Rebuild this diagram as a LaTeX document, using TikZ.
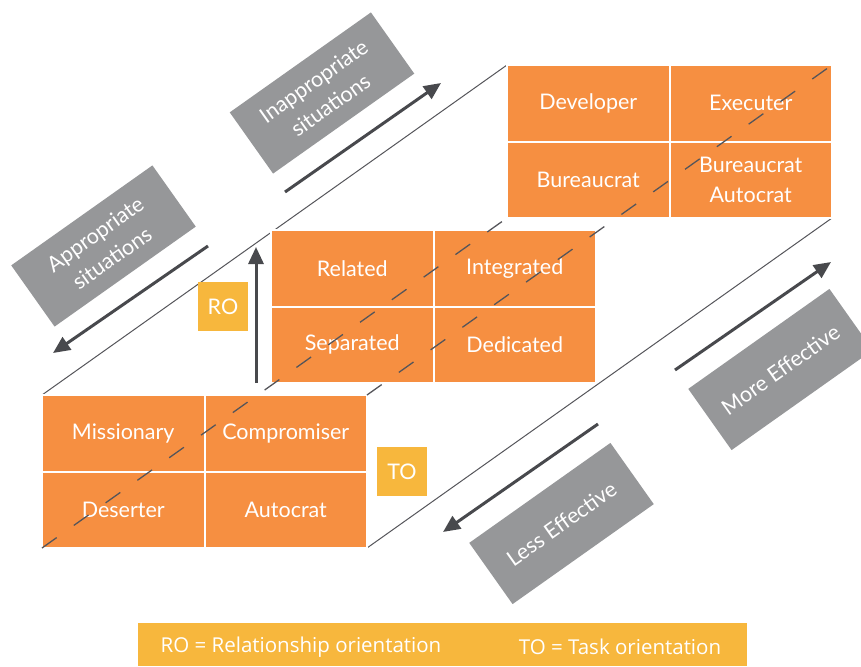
\documentclass[tikz,border=0pt]{standalone}
\usepackage{fontspec}
\setmainfont{Lato}
\newfontfamily\legendfont{Open Sans}
\usetikzlibrary{arrows.meta,backgrounds}

\definecolor{cellorange}{RGB}{246,143,65}
\definecolor{tagyellow}{RGB}{247,183,61}
\definecolor{labelgrey}{RGB}{150,151,153}
\definecolor{arrowgrey}{RGB}{72,73,77}
\definecolor{edgegrey}{RGB}{85,85,90}

\begin{document}
\begin{tikzpicture}[x=1pt,y=-1pt,
    cell/.style={rectangle,fill=cellorange,draw=white,line width=2pt,
        minimum width=162.5pt,minimum height=76.5pt,inner sep=0pt,outer sep=0pt,
        text=white,align=center,font=\fontsize{21.5}{30}\selectfont},
    tag/.style={rectangle,fill=labelgrey,minimum width=173pt,minimum height=75pt,
        inner sep=0pt,rotate=35.3,text=white,align=center,font=\fontsize{21.5}{29}\selectfont},
    orient/.style={rectangle,fill=tagyellow,minimum width=50pt,minimum height=49pt,
        inner sep=0pt,text=white,font=\fontsize{21.5}{24}\selectfont},
    bigarrow/.style={draw=arrowgrey,line width=3pt,-{Triangle[length=17pt,width=15pt]}},
    cubeedge/.style={draw=edgegrey,line width=1pt},
    hiddenedge/.style={draw=edgegrey,line width=1.3pt,dash pattern=on 18pt off 21pt}]

        \useasboundingbox (0,0) rectangle (861,666);
        \clip (0,0) rectangle (861,666);

        % front face
        \node[cell] (mis) at (123.25,433.25) {Missionary};
        \node[cell] (com) at (285.75,433.25) {Compromiser};
        \node[cell] (des) at (123.25,509.75) {Deserter};
        \node[cell] (aut) at (285.75,509.75) {Autocrat};

        % middle slice
        \node[cell] (rel) at (352.25,268.25) {Related};
        \node[cell] (int) at (514.75,268.25) {Integrated};
        \node[cell] (sep) at (352.25,344.75) {Separated};
        \node[cell] (ded) at (514.75,344.75) {Dedicated};

        % back face
        \node[cell] (dev) at (588.25,103.25) {Developer};
        \node[cell] (exe) at (750.75,103.25) {Executer};
        \node[cell] (bur) at (588.25,179.75) {Bureaucrat};
        \node[cell] (ba)  at (750.75,179.75) {Bureaucrat\\Autocrat};

        % cube edges
        \begin{scope}[on background layer]
            \draw [cubeedge] (mis.north west) -- (dev.north west);
            \draw [cubeedge] (aut.south east) -- (ba.south east);
        \end{scope}
        \draw [hiddenedge] (des.south west) -- (bur.south west);
        \draw [hiddenedge] (com.north east) -- (exe.north east);

        % orientation tags
        \node[orient] (ro) at (223,306.5) {RO};
        \node[orient] (to) at (402,471.5) {TO};

        % grey labels
        \node[tag] (inap) at (322,93)      {Inappropriate\\situations};
        \node[tag] (appr) at (103.5,246)   {Appropriate\\situations};
        \node[tag] (less) at (561.5,523.5) {Less Effective};
        \node[tag] (more) at (780.5,369.5) {More Effective};

        % arrows
        \coordinate (inap-a) at (285,192);
        \coordinate (inap-b) at (441,83);
        \coordinate (appr-a) at (208,246);
        \coordinate (appr-b) at (53,353);
        \coordinate (ro-a)   at (256,383);
        \coordinate (ro-b)   at (256,247);
        \coordinate (more-a) at (675,370);
        \coordinate (more-b) at (831,262);
        \coordinate (less-a) at (598,424);
        \coordinate (less-b) at (443,532);

        \draw [bigarrow] (inap-a) -- (inap-b);
        \draw [bigarrow] (appr-a) -- (appr-b);
        \draw [bigarrow] (ro-a)   -- (ro-b);
        \draw [bigarrow] (more-a) -- (more-b);
        \draw [bigarrow] (less-a) -- (less-b);

        % legend
        \node[rectangle,fill=tagyellow,minimum width=609pt,minimum height=43pt,
            inner sep=0pt,anchor=north west] (legend) at (138,623) {};
        \node[text=white,font=\legendfont\fontsize{20.5}{24}\selectfont] (ro-key) at (301,647) {RO = Relationship orientation};
        \node[text=white,font=\legendfont\fontsize{20.5}{24}\selectfont] (to-key) at (620,647) {TO = Task orientation};
\end{tikzpicture}
\end{document}
